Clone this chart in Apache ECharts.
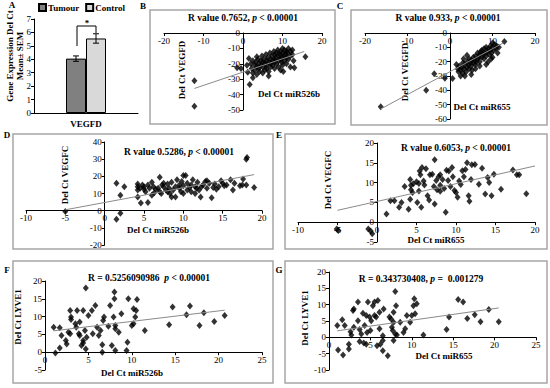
<!DOCTYPE html>
<html><head><meta charset="utf-8">
<script src="https://cdn.jsdelivr.net/npm/echarts@6/dist/echarts.min.js"></script>
<style>html,body{margin:0;padding:0;background:#fff}#c{width:550px;height:388px}</style>
</head><body><div id="c"></div>
<script>
// ---------- DATA ----------
const categoriesA = ['VEGFD'];
const tumourMean = [4.05];
const tumourSem = [0.2];
const controlMean = [5.55];
const controlSem = [0.35];
const yTicksA = [0, 7, 1];

// B: Del Ct miR526b vs Del Ct VEGFD
const dataB = [[-12.3,-31],[-12.3,-47.5],[-1.5,-22.5],[-0.5,-23],[1,-21],[1.5,-16.5],[1.2,-25.5],[1.7,-33.5],[2,-20],[2.2,-23],[2.5,-18],[2.5,-26],[3,-21],[3,-24],[3.2,-19],[3.5,-22],[3.5,-27],[3.8,-17],[4,-20],[4,-23],[4.2,-25],[4.5,-18],[4.5,-21],[4.8,-15],[5,-19],[5,-22],[5,-26],[5.3,-17],[5.5,-20],[5.5,-24],[5.8,-14],[6,-18],[6,-21],[6,-23],[6.3,-16],[6.5,-19],[6.5,-25],[6.8,-13],[7,-17],[7,-20],[7,-22],[7.3,-15],[7.5,-18],[7.5,-21],[7.8,-12],[8,-14],[8,-17],[8,-19],[8,-23],[8.3,-16],[8.5,-13],[8.5,-20],[8.8,-11],[9,-15],[9,-18],[9,-22],[9.3,-14],[9.5,-12],[9.5,-17],[9.8,-19],[10,-10],[10,-13],[10,-16],[10,-21],[10.3,-15],[10.5,-11],[10.5,-18],[10.8,-14],[11,-12],[11,-16],[11,-20],[11.3,-13],[11.5,-10],[11.5,-17],[12,-12],[12,-15],[12,-22],[12.5,-14],[12.8,-18],[13,-22.5],[10.2,-25],[15.8,-15.5],[6.5,-28],[3.5,-15.5],[2.5,-29],[9.5,-24],[12.5,-11]];
const trendB = [[-12.3,-36],[15.5,-12]];
// C: Del Ct miR655 vs Del Ct VEGFD
const dataC = [[-16.3,-51.5],[-5.6,-40],[-3.7,-28.5],[-1.2,-31.5],[0.6,-31.8],[1.5,-22],[1.8,-25],[2,-27],[2.2,-23],[2.5,-26],[2.8,-24],[3,-28],[3,-21],[3.3,-25],[3.5,-22],[3.8,-27],[4,-24],[4,-20],[4.3,-22],[4.5,-25],[4.5,-18],[4.8,-21],[5,-23],[5,-19],[5.2,-26],[5.5,-21],[5.5,-17],[5.8,-19],[6,-22],[6,-16],[6.2,-20],[6.5,-18],[6.5,-14],[6.8,-17],[7,-20],[7,-15],[7.2,-13],[7.5,-17],[7.5,-12],[7.8,-15],[8,-18],[8,-11],[8.2,-14],[8.5,-16],[8.5,-10],[8.8,-13],[9,-20],[9,-11],[9.2,-15],[9.5,-12],[9.5,-9],[9.8,-14],[10,-10],[10,-17],[10.3,-12],[10.5,-8],[10.8,-11],[11,-9],[11.5,-10],[12.8,-6],[3.5,-30],[2.5,-30],[5,-29],[6,-25],[7,-23],[4,-15.5],[3.2,-18],[8.5,-22],[9.7,-18],[11.2,-14],[10,-7]];
const trendC = [[-16.3,-53],[12.5,-7]];
// D: Del Ct miR526b vs Del Ct VEGFC
const dataD = [[-5,-0.5],[-10.2,-11],[1.5,-5],[2,-1.5],[1.5,16],[2,9],[2.5,14],[4.2,15.5],[4.2,14],[4.2,12],[4.2,8],[4.5,13],[4.6,4.5],[4.8,15],[5,12.5],[5,14],[5.2,11],[5.5,4.8],[5.5,15],[5.7,13],[6,9],[6,16.5],[6.2,14],[6.5,12.5],[6.8,13],[7,11],[7,19.5],[7.2,10],[7.5,14],[7.5,16],[7.8,12],[8,11],[8,15.5],[8.2,13],[8.5,8],[8.5,16.5],[8.7,12],[9,8],[9,14],[9.2,18],[9.5,13],[9.5,15],[9.8,17],[10,20.5],[10,10],[10,14.5],[10.3,20.5],[10.5,12],[10.5,16],[10.8,13.5],[11,15],[11,11],[11.2,18],[11.5,10],[11.5,14],[11.8,16.5],[12,12],[12.2,8],[12.5,15],[12.8,17],[13,13],[13,17.5],[13.3,16],[13.6,7.5],[13.8,13.5],[14,15.5],[14.5,14],[14.8,17.5],[15,16],[15.5,15],[16,18],[16.3,12],[16.5,16],[17.2,14.5],[17.5,15],[17.6,18.5],[18,15],[18.1,31],[18,30],[19,13.5],[7.3,15],[8.3,10],[6.3,10.5],[9.7,11],[11.7,13],[12.3,14],[14.2,12.5],[15.2,14.5]];
const trendD = [[-5,0.5],[19,21]];
// E: Del Ct miR655 vs Del Ct VEGFC
const dataE = [[-5.1,-1.7],[-4.9,-2.1],[-1.1,-1.7],[-0.6,-2.9],[-0.8,-2.2],[1.2,2.1],[1.7,5.4],[2.2,5.4],[2.8,3.8],[3.1,5],[4,3.3],[4.2,5.8],[4.2,10.8],[4.3,9.3],[4.3,8.2],[4.6,9.7],[4.5,7.5],[5.1,5],[5.3,7.9],[5.4,12.9],[5.3,9.8],[5.6,3.8],[5.7,13.8],[5.9,10.4],[5.5,12],[6,9.4],[6.4,6.7],[6.6,5.6],[6.7,12],[7,12.1],[7.3,15.8],[7.3,4.6],[7.2,9],[7.5,10.5],[7.6,8.2],[7.8,11.5],[8,12],[8,9.3],[8.3,10.8],[8.5,8.5],[8.7,2.5],[8.8,13.1],[9.1,12.9],[9,10.5],[9.3,9],[9.5,13.8],[9.6,11.5],[9.8,8],[10,7.5],[10.2,6.3],[10.4,10.4],[10.6,9.5],[10.8,13],[11,11.5],[11.2,13.3],[11.4,15],[11.6,6.7],[11.7,5.3],[11.9,10.8],[12,14.5],[12.4,14.6],[12.9,9.6],[13.3,13.6],[13.7,7.1],[14,11.3],[14.2,10],[14.5,6.7],[14.8,12.1],[15.7,8.3],[17.2,13.2],[17.7,12],[18,12],[18.9,7.2],[5,10.2],[6.2,13.5],[8,7.8],[3.5,9]];
const trendE = [[-5,3],[20,14.2]];
// F: Del Ct miR526b vs Del Ct LYVE1
const dataF = [[1,7],[1.2,-0.2],[1.7,6.9],[1.7,1.2],[1.9,4.7],[2.4,3.3],[2.5,2.3],[2.7,5.6],[2.9,5.2],[2.9,11.7],[3,9.9],[3,9.2],[3.5,8],[3.6,7],[3.7,11.7],[3.9,5.2],[4,4.7],[4,8.5],[4.2,1.9],[4.4,3.3],[4.4,2.6],[4.4,11.7],[4.6,6.1],[4.7,18],[4.7,0.9],[4.8,4.2],[5,10.3],[5.4,11.7],[5.5,5.2],[5.8,13.1],[6,7],[6.2,4.7],[6.4,6.1],[6.6,0],[6.6,2.1],[6.7,8.9],[6.8,9.9],[7.3,7.3],[7.5,13.1],[7.7,1.9],[7.9,9.9],[8,15],[8,16.9],[8.1,7.5],[8.1,6.6],[8.1,0.5],[8.5,5.6],[8.8,10.8],[9.4,0.5],[9.5,2.8],[9.6,15],[10,7.5],[10.2,8],[10.2,12.2],[10.4,9.9],[10.5,11.7],[10.6,14.8],[11.5,6.1],[14.3,7.7],[14.7,12.7],[16.3,10.5],[16.7,13],[17.8,7.5],[18.3,11.1],[19.5,8.6],[20.7,10.3]];
const trendF = [[1,6],[20.7,11.8]];
// G: Del Ct miR655 vs Del Ct LYVE1
const dataG = [[1,3.6],[1.1,-3.9],[1.6,5.4],[1.7,-5.4],[1.9,3.6],[2.4,-2.1],[2.4,-3.6],[2.6,1.7],[2.7,0.7],[2.9,8.2],[3,8.7],[3,3.1],[3.5,10.8],[3.5,5.1],[3.7,2.4],[3.7,-1.3],[3.9,1],[4.1,7.4],[4.2,-1.7],[4.3,3.6],[4.5,6.7],[4.5,-2.1],[4.6,1.5],[4.7,10.8],[4.9,6.2],[5,2.1],[5.1,5.1],[5.3,9.7],[5.5,6.7],[5.5,10.8],[5.7,6.2],[5.8,-2.6],[5.9,11.3],[6.1,7.7],[6.1,2.6],[6.2,-2.1],[6.5,-1],[6.5,0.5],[6.6,8.7],[6.5,-4.1],[7.1,-5.6],[7.3,6.2],[7.5,5.6],[7.6,3.1],[7.7,2.1],[7.8,4.6],[7.8,-1],[7.8,7.7],[8,1],[8,14],[8.1,9.7],[8.2,0.7],[8.6,4.6],[9,1.5],[9.2,2.6],[9.4,6.7],[9.8,4.6],[10,6.7],[10.2,9.7],[10.3,11.8],[10.4,7.2],[10.6,10.3],[11.4,0.7],[14.2,2.4],[14.5,6.2],[15.6,11.6],[16.2,10.8],[16.7,5.8],[17.6,6.9],[18.3,4.8],[19.3,8.5],[20.5,4.8]];
const trendG = [[1,2],[20.5,9]];

// ---------- LAYOUT ----------
const SERIF = '"Liberation Serif", "Times New Roman", serif';
const panels = [
  {grid:{left:164,top:33,width:158,height:77}, x:[-20,20,10], y:[-50,0,10], data:dataB, trend:trendB},
  {grid:{left:365,top:33,width:170,height:86}, x:[-20,20,10], y:[-60,0,10], data:dataC, trend:trendC},
  {grid:{left:26,top:142,width:236,height:103}, x:[-10,20,5], y:[-20,40,10], data:dataD, trend:trendD},
  {grid:{left:298,top:143,width:237,height:99}, x:[-10,20,5], y:[-5,20,5], data:dataE, trend:trendE},
  {grid:{left:45,top:281,width:217,height:89}, x:[0,25,5], y:[-5,20,5], data:dataF, trend:trendF},
  {grid:{left:329,top:272,width:207,height:98}, x:[0,25,5], y:[-10,20,5], data:dataG, trend:trendG}
];

const axisLabel = {color:'#000', fontFamily:SERIF, fontSize:9, margin:3};
const grids = [{left:34,top:19,width:104,height:94}];
const xAxes = [{type:'category', data:categoriesA, gridIndex:0,
  axisLine:{lineStyle:{color:'#000',width:1}}, axisTick:{show:false},
  axisLabel:{color:'#000', fontFamily:SERIF, fontSize:9, fontWeight:'bold', margin:6}}];
const yAxes = [{type:'value', gridIndex:0, min:yTicksA[0], max:yTicksA[1], interval:yTicksA[2],
  axisLine:{show:true,lineStyle:{color:'#000',width:1}}, axisTick:{show:true,length:3,lineStyle:{color:'#000'}},
  splitLine:{show:false}, axisLabel:axisLabel}];
const series = [
  {type:'bar', name:'Tumour', data:tumourMean, xAxisIndex:0, yAxisIndex:0, barWidth:20, barGap:'0%',
   itemStyle:{color:'#808080', borderColor:'#000', borderWidth:1}},
  {type:'bar', name:'Control', data:controlMean, xAxisIndex:0, yAxisIndex:0, barWidth:20, barGap:'0%',
   itemStyle:{color:'#d9d9d9', borderColor:'#000', borderWidth:1}}
];
function errSeries(means, sems, off){
  return {type:'custom', xAxisIndex:0, yAxisIndex:0, z:5, silent:true,
    data: means.map((m,i)=>[i, m, sems[i]]),
    renderItem:function(params, api){
      const i = api.value(0), m = api.value(1), s = api.value(2);
      const top = api.coord([i, m + s]), bot = api.coord([i, m - s]);
      const x = top[0] + off;
      return {type:'group', children:[
        {type:'line', shape:{x1:x,y1:top[1],x2:x,y2:bot[1]}, style:{stroke:'#000',lineWidth:1}},
        {type:'line', shape:{x1:x-3,y1:top[1],x2:x+3,y2:top[1]}, style:{stroke:'#000',lineWidth:1}},
        {type:'line', shape:{x1:x-3,y1:bot[1],x2:x+3,y2:bot[1]}, style:{stroke:'#000',lineWidth:1}}
      ]};
    }};
}
series.push(errSeries(tumourMean, tumourSem, -10));
series.push(errSeries(controlMean, controlSem, 10));

panels.forEach((p, k) => {
  const gi = k + 1;
  grids.push(p.grid);
  // axes cross at zero: shift each axis (line, ticks and labels) to the other axis' zero
  const xOff = -p.grid.height * (0 - p.y[0]) / (p.y[1] - p.y[0]);
  const yOff = -p.grid.width * (0 - p.x[0]) / (p.x[1] - p.x[0]);
  xAxes.push({type:'value', gridIndex:gi, min:p.x[0], max:p.x[1], interval:p.x[2], position:'bottom', offset:xOff,
    axisLine:{onZero:false, lineStyle:{color:'#000',width:1}}, axisTick:{show:true,length:3,lineStyle:{color:'#000'}},
    splitLine:{show:false}, axisLabel:axisLabel});
  yAxes.push({type:'value', gridIndex:gi, min:p.y[0], max:p.y[1], interval:p.y[2], position:'left', offset:yOff,
    axisLine:{show:true, onZero:false, lineStyle:{color:'#000',width:1}}, axisTick:{show:true,length:3,lineStyle:{color:'#000'}},
    splitLine:{show:false}, axisLabel:axisLabel});
  series.push({type:'scatter', xAxisIndex:gi, yAxisIndex:gi, data:p.data, symbol:'diamond', symbolSize:[6,7],
    itemStyle:{color:'#000'}, silent:true});
  series.push({type:'line', xAxisIndex:gi, yAxisIndex:gi, data:p.trend, showSymbol:false, symbol:'none', z:4,
    lineStyle:{color:'#8a8a8a', width:1}, silent:true});
});

// ---------- TEXT / FRAMES ----------
const B9 = 'bold 9px ' + SERIF;
const T95 = 'bold 9.5px ' + SERIF;
function txt(x, y, text){
  return {type:'text', x:x, y:y, silent:true,
    style:{text:text, font:B9, fill:'#000', textAlign:'center', textVerticalAlign:'middle'}};
}
const rich = {i:{fontStyle:'italic', fontWeight:'bold', fontFamily:SERIF, fontSize:9.5}};
function rtitle(x, y, a, b){
  return {type:'text', x:x, y:y, silent:true, style:{text:a+'{i|p}'+b, font:T95, fill:'#000', textAlign:'center', textVerticalAlign:'middle', rich:rich}};
}
function rot(x, y, text){
  return {type:'text', x:x, y:y, rotation:Math.PI/2, silent:true,
    style:{text:text, font:B9, fill:'#000', textAlign:'center', textVerticalAlign:'middle'}};
}
function frame(x, y, w, h){
  return {type:'rect', silent:true, shape:{x:x,y:y,width:w,height:h}, style:{fill:'none', stroke:'#a6a6a6', lineWidth:1.5}};
}
const graphic = [
  frame(150,10,185,114), frame(351,10,196,115),
  frame(13,134,260,115), frame(285,134,262,115),
  frame(13,261,260,122), frame(285,261,262,122),
  txt(12,5,'A'), txt(143,6,'B'), txt(340,6,'C'), txt(7,135,'D'), txt(279,135,'E'), txt(7,270,'F'), txt(279,270,'G'),
  rot(10,56,'Gene Expression Del Ct'), rot(20,56,'Mean\u00b1 SEM'),
  {type:'polyline', silent:true, shape:{points:[[77,46],[77,26],[96,26],[96,33]]}, style:{stroke:'#000', lineWidth:1, fill:'none'}},
  txt(87,23,'*'),
  rtitle(243,18,'R value 0.7652, ',' < 0.00001'),
  rot(182,70,'Del Ct VEGFD'),
  txt(289,94,'Del Ct miR526b'),
  rtitle(448,18,'R value 0.933, ',' < 0.00001'),
  rot(405,72,'Del Ct VEGFD'),
  txt(482,107,'Del Ct miR655'),
  rtitle(179,152,'R value 0.5286, ',' < 0.00001'),
  rot(65,175,'Del Ct VEGFC'),
  txt(158,230,'Del Ct miR526b'),
  rtitle(456,148,'R value 0.6053, ',' < 0.00001'),
  rot(328,180,'Del Ct VEGFC'),
  txt(436,240,'Del Ct miR655'),
  rtitle(149,278,'R = 0.5256090986  ',' < 0.00001'),
  rot(18,317,'Del Ct LYVE1'),
  txt(132,373,'Del Ct miR526b'),
  rtitle(421,279,'R = 0.343730408, ',' =  0.001279'),
  rot(305,318,'Del Ct LYVE1'),
  txt(444,356,'Del Ct miR655')
];

const chart = echarts.init(document.getElementById('c'), null, {renderer:'svg'});
chart.setOption({
  animation:false,
  legend:{data:['Tumour','Control'], left:36, top:1, padding:[2,2,2,2], itemWidth:7, itemHeight:7, itemGap:6, icon:'rect',
    textStyle:{fontFamily:SERIF, fontSize:9, fontWeight:'bold', color:'#000', padding:[0,0,0,-3]}},
  grid:grids, xAxis:xAxes, yAxis:yAxes, series:series, graphic:graphic
});
</script></body></html>
